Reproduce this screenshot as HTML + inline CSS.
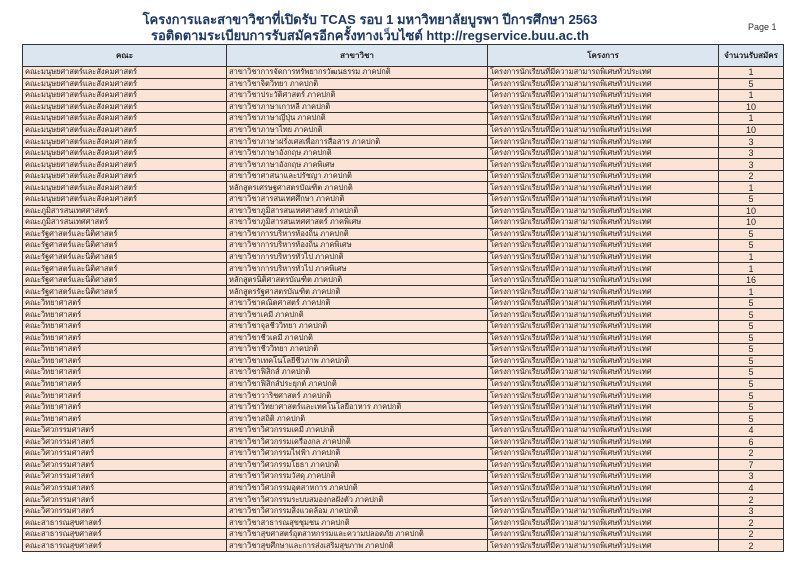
<!DOCTYPE html>
<html><head><meta charset="utf-8">
<style>
body{margin:0;width:800px;height:566px;background:#fff;position:relative;overflow:hidden;font-family:"Liberation Sans",sans-serif;}
.t1{position:absolute;left:0;width:740px;text-align:center;font-weight:bold;color:#1f3864;font-size:13px;line-height:16px}
.pg{position:absolute;left:748px;top:22px;font-size:9px;color:#333}
table{position:absolute;left:22px;top:44px;border-collapse:collapse;table-layout:fixed;width:761px}
td,th{border:1px solid #333;padding:0 2px;font-size:7.5px;color:#222;white-space:nowrap;overflow:hidden;height:10.55px;line-height:10px}
th{background:#dce6f1;height:21px;font-weight:bold;font-size:8px;color:#222}
td{background:#fbe4d6}
td:last-child{text-align:center;font-size:9px}
</style></head><body>
<div class="t1" style="top:12px">โครงการและสาขาวิชาที่เปิดรับ TCAS รอบ 1 มหาวิทยาลัยบูรพา ปีการศึกษา 2563</div>
<div class="t1" style="top:28px">รอติดตามระเบียบการรับสมัครอีกครั้งทางเว็บไซต์ http://regservice.buu.ac.th</div>
<div class="pg">Page 1</div>
<table>
<colgroup><col style="width:204px"><col style="width:261px"><col style="width:231px"><col style="width:65px"></colgroup>
<tr><th>คณะ</th><th>สาขาวิชา</th><th>โครงการ</th><th>จำนวนรับสมัคร</th></tr>
<tr><td>คณะมนุษยศาสตร์และสังคมศาสตร์</td><td>สาขาวิชาการจัดการทรัพยากรวัฒนธรรม ภาคปกติ</td><td>โครงการนักเรียนที่มีความสามารถพิเศษทั่วประเทศ</td><td>1</td></tr>
<tr><td>คณะมนุษยศาสตร์และสังคมศาสตร์</td><td>สาขาวิชาจิตวิทยา ภาคปกติ</td><td>โครงการนักเรียนที่มีความสามารถพิเศษทั่วประเทศ</td><td>5</td></tr>
<tr><td>คณะมนุษยศาสตร์และสังคมศาสตร์</td><td>สาขาวิชาประวัติศาสตร์ ภาคปกติ</td><td>โครงการนักเรียนที่มีความสามารถพิเศษทั่วประเทศ</td><td>1</td></tr>
<tr><td>คณะมนุษยศาสตร์และสังคมศาสตร์</td><td>สาขาวิชาภาษาเกาหลี ภาคปกติ</td><td>โครงการนักเรียนที่มีความสามารถพิเศษทั่วประเทศ</td><td>10</td></tr>
<tr><td>คณะมนุษยศาสตร์และสังคมศาสตร์</td><td>สาขาวิชาภาษาญี่ปุ่น ภาคปกติ</td><td>โครงการนักเรียนที่มีความสามารถพิเศษทั่วประเทศ</td><td>1</td></tr>
<tr><td>คณะมนุษยศาสตร์และสังคมศาสตร์</td><td>สาขาวิชาภาษาไทย ภาคปกติ</td><td>โครงการนักเรียนที่มีความสามารถพิเศษทั่วประเทศ</td><td>10</td></tr>
<tr><td>คณะมนุษยศาสตร์และสังคมศาสตร์</td><td>สาขาวิชาภาษาฝรั่งเศสเพื่อการสื่อสาร ภาคปกติ</td><td>โครงการนักเรียนที่มีความสามารถพิเศษทั่วประเทศ</td><td>3</td></tr>
<tr><td>คณะมนุษยศาสตร์และสังคมศาสตร์</td><td>สาขาวิชาภาษาอังกฤษ ภาคปกติ</td><td>โครงการนักเรียนที่มีความสามารถพิเศษทั่วประเทศ</td><td>3</td></tr>
<tr><td>คณะมนุษยศาสตร์และสังคมศาสตร์</td><td>สาขาวิชาภาษาอังกฤษ ภาคพิเศษ</td><td>โครงการนักเรียนที่มีความสามารถพิเศษทั่วประเทศ</td><td>3</td></tr>
<tr><td>คณะมนุษยศาสตร์และสังคมศาสตร์</td><td>สาขาวิชาศาสนาและปรัชญา ภาคปกติ</td><td>โครงการนักเรียนที่มีความสามารถพิเศษทั่วประเทศ</td><td>2</td></tr>
<tr><td>คณะมนุษยศาสตร์และสังคมศาสตร์</td><td>หลักสูตรเศรษฐศาสตรบัณฑิต ภาคปกติ</td><td>โครงการนักเรียนที่มีความสามารถพิเศษทั่วประเทศ</td><td>1</td></tr>
<tr><td>คณะมนุษยศาสตร์และสังคมศาสตร์</td><td>สาขาวิชาสารสนเทศศึกษา ภาคปกติ</td><td>โครงการนักเรียนที่มีความสามารถพิเศษทั่วประเทศ</td><td>5</td></tr>
<tr><td>คณะภูมิสารสนเทศศาสตร์</td><td>สาขาวิชาภูมิสารสนเทศศาสตร์ ภาคปกติ</td><td>โครงการนักเรียนที่มีความสามารถพิเศษทั่วประเทศ</td><td>10</td></tr>
<tr><td>คณะภูมิสารสนเทศศาสตร์</td><td>สาขาวิชาภูมิสารสนเทศศาสตร์ ภาคพิเศษ</td><td>โครงการนักเรียนที่มีความสามารถพิเศษทั่วประเทศ</td><td>10</td></tr>
<tr><td>คณะรัฐศาสตร์และนิติศาสตร์</td><td>สาขาวิชาการบริหารท้องถิ่น ภาคปกติ</td><td>โครงการนักเรียนที่มีความสามารถพิเศษทั่วประเทศ</td><td>5</td></tr>
<tr><td>คณะรัฐศาสตร์และนิติศาสตร์</td><td>สาขาวิชาการบริหารท้องถิ่น ภาคพิเศษ</td><td>โครงการนักเรียนที่มีความสามารถพิเศษทั่วประเทศ</td><td>5</td></tr>
<tr><td>คณะรัฐศาสตร์และนิติศาสตร์</td><td>สาขาวิชาการบริหารทั่วไป ภาคปกติ</td><td>โครงการนักเรียนที่มีความสามารถพิเศษทั่วประเทศ</td><td>1</td></tr>
<tr><td>คณะรัฐศาสตร์และนิติศาสตร์</td><td>สาขาวิชาการบริหารทั่วไป ภาคพิเศษ</td><td>โครงการนักเรียนที่มีความสามารถพิเศษทั่วประเทศ</td><td>1</td></tr>
<tr><td>คณะรัฐศาสตร์และนิติศาสตร์</td><td>หลักสูตรนิติศาสตรบัณฑิต ภาคปกติ</td><td>โครงการนักเรียนที่มีความสามารถพิเศษทั่วประเทศ</td><td>16</td></tr>
<tr><td>คณะรัฐศาสตร์และนิติศาสตร์</td><td>หลักสูตรรัฐศาสตรบัณฑิต ภาคปกติ</td><td>โครงการนักเรียนที่มีความสามารถพิเศษทั่วประเทศ</td><td>1</td></tr>
<tr><td>คณะวิทยาศาสตร์</td><td>สาขาวิชาคณิตศาสตร์ ภาคปกติ</td><td>โครงการนักเรียนที่มีความสามารถพิเศษทั่วประเทศ</td><td>5</td></tr>
<tr><td>คณะวิทยาศาสตร์</td><td>สาขาวิชาเคมี ภาคปกติ</td><td>โครงการนักเรียนที่มีความสามารถพิเศษทั่วประเทศ</td><td>5</td></tr>
<tr><td>คณะวิทยาศาสตร์</td><td>สาขาวิชาจุลชีววิทยา ภาคปกติ</td><td>โครงการนักเรียนที่มีความสามารถพิเศษทั่วประเทศ</td><td>5</td></tr>
<tr><td>คณะวิทยาศาสตร์</td><td>สาขาวิชาชีวเคมี ภาคปกติ</td><td>โครงการนักเรียนที่มีความสามารถพิเศษทั่วประเทศ</td><td>5</td></tr>
<tr><td>คณะวิทยาศาสตร์</td><td>สาขาวิชาชีววิทยา ภาคปกติ</td><td>โครงการนักเรียนที่มีความสามารถพิเศษทั่วประเทศ</td><td>5</td></tr>
<tr><td>คณะวิทยาศาสตร์</td><td>สาขาวิชาเทคโนโลยีชีวภาพ ภาคปกติ</td><td>โครงการนักเรียนที่มีความสามารถพิเศษทั่วประเทศ</td><td>5</td></tr>
<tr><td>คณะวิทยาศาสตร์</td><td>สาขาวิชาฟิสิกส์ ภาคปกติ</td><td>โครงการนักเรียนที่มีความสามารถพิเศษทั่วประเทศ</td><td>5</td></tr>
<tr><td>คณะวิทยาศาสตร์</td><td>สาขาวิชาฟิสิกส์ประยุกต์ ภาคปกติ</td><td>โครงการนักเรียนที่มีความสามารถพิเศษทั่วประเทศ</td><td>5</td></tr>
<tr><td>คณะวิทยาศาสตร์</td><td>สาขาวิชาวาริชศาสตร์ ภาคปกติ</td><td>โครงการนักเรียนที่มีความสามารถพิเศษทั่วประเทศ</td><td>5</td></tr>
<tr><td>คณะวิทยาศาสตร์</td><td>สาขาวิชาวิทยาศาสตร์และเทคโนโลยีอาหาร ภาคปกติ</td><td>โครงการนักเรียนที่มีความสามารถพิเศษทั่วประเทศ</td><td>5</td></tr>
<tr><td>คณะวิทยาศาสตร์</td><td>สาขาวิชาสถิติ ภาคปกติ</td><td>โครงการนักเรียนที่มีความสามารถพิเศษทั่วประเทศ</td><td>5</td></tr>
<tr><td>คณะวิศวกรรมศาสตร์</td><td>สาขาวิชาวิศวกรรมเคมี ภาคปกติ</td><td>โครงการนักเรียนที่มีความสามารถพิเศษทั่วประเทศ</td><td>4</td></tr>
<tr><td>คณะวิศวกรรมศาสตร์</td><td>สาขาวิชาวิศวกรรมเครื่องกล ภาคปกติ</td><td>โครงการนักเรียนที่มีความสามารถพิเศษทั่วประเทศ</td><td>6</td></tr>
<tr><td>คณะวิศวกรรมศาสตร์</td><td>สาขาวิชาวิศวกรรมไฟฟ้า ภาคปกติ</td><td>โครงการนักเรียนที่มีความสามารถพิเศษทั่วประเทศ</td><td>2</td></tr>
<tr><td>คณะวิศวกรรมศาสตร์</td><td>สาขาวิชาวิศวกรรมโยธา ภาคปกติ</td><td>โครงการนักเรียนที่มีความสามารถพิเศษทั่วประเทศ</td><td>7</td></tr>
<tr><td>คณะวิศวกรรมศาสตร์</td><td>สาขาวิชาวิศวกรรมวัสดุ ภาคปกติ</td><td>โครงการนักเรียนที่มีความสามารถพิเศษทั่วประเทศ</td><td>3</td></tr>
<tr><td>คณะวิศวกรรมศาสตร์</td><td>สาขาวิชาวิศวกรรมอุตสาหการ ภาคปกติ</td><td>โครงการนักเรียนที่มีความสามารถพิเศษทั่วประเทศ</td><td>4</td></tr>
<tr><td>คณะวิศวกรรมศาสตร์</td><td>สาขาวิชาวิศวกรรมระบบสมองกลฝังตัว ภาคปกติ</td><td>โครงการนักเรียนที่มีความสามารถพิเศษทั่วประเทศ</td><td>2</td></tr>
<tr><td>คณะวิศวกรรมศาสตร์</td><td>สาขาวิชาวิศวกรรมสิ่งแวดล้อม ภาคปกติ</td><td>โครงการนักเรียนที่มีความสามารถพิเศษทั่วประเทศ</td><td>3</td></tr>
<tr><td>คณะสาธารณสุขศาสตร์</td><td>สาขาวิชาสาธารณสุขชุมชน ภาคปกติ</td><td>โครงการนักเรียนที่มีความสามารถพิเศษทั่วประเทศ</td><td>2</td></tr>
<tr><td>คณะสาธารณสุขศาสตร์</td><td>สาขาวิชาสุขศาสตร์อุตสาหกรรมและความปลอดภัย ภาคปกติ</td><td>โครงการนักเรียนที่มีความสามารถพิเศษทั่วประเทศ</td><td>2</td></tr>
<tr><td>คณะสาธารณสุขศาสตร์</td><td>สาขาวิชาสุขศึกษาและการส่งเสริมสุขภาพ ภาคปกติ</td><td>โครงการนักเรียนที่มีความสามารถพิเศษทั่วประเทศ</td><td>2</td></tr>
</table>
</body></html>
